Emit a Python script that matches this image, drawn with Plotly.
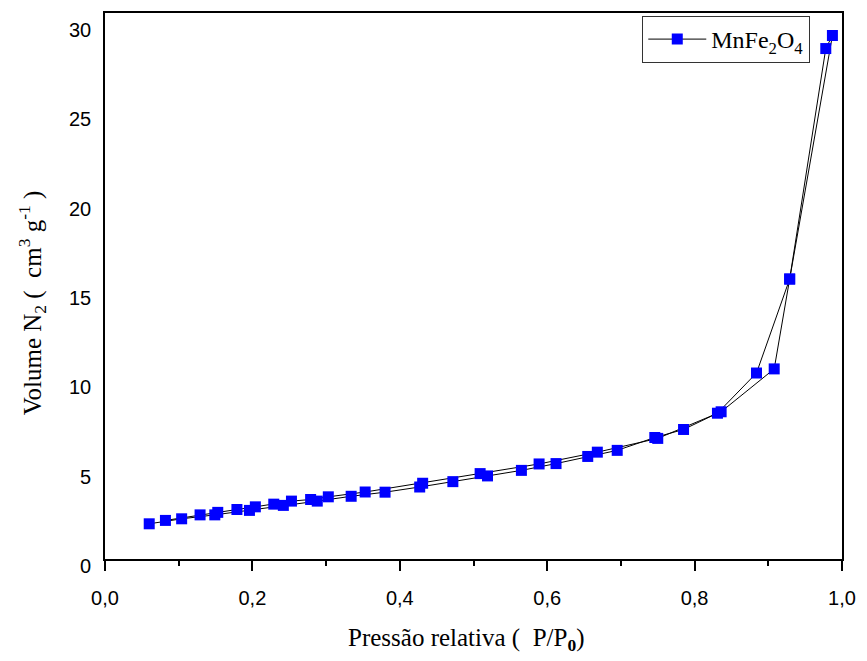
import plotly.graph_objects as go

# N2 isotherm of MnFe2O4: adsorption branch (increasing P/P0)
p_ads = [0.060, 0.104, 0.149, 0.196, 0.242, 0.288, 0.334, 0.380, 0.427, 0.472,
         0.519, 0.565, 0.612, 0.655, 0.695, 0.746, 0.785, 0.831, 0.884, 0.929, 0.987]
v_ads = [2.36, 2.64, 2.86, 3.11, 3.39, 3.63, 3.90, 4.13, 4.42, 4.72,
         5.04, 5.35, 5.73, 6.13, 6.47, 7.19, 7.64, 8.55, 10.80, 16.06, 29.69]

# desorption branch (decreasing P/P0)
p_des = [0.978, 0.929, 0.908, 0.836, 0.750, 0.668, 0.589, 0.509, 0.431, 0.353,
         0.303, 0.279, 0.253, 0.229, 0.204, 0.179, 0.153, 0.129, 0.082]
v_des = [28.96, 16.06, 11.03, 8.63, 7.14, 6.37, 5.71, 5.17, 4.63, 4.14,
         3.87, 3.72, 3.63, 3.46, 3.31, 3.16, 3.00, 2.86, 2.55]

x_ticks = [0.0, 0.2, 0.4, 0.6, 0.8, 1.0]
y_ticks = [0, 5, 10, 15, 20, 25, 30]
y_tick_text = [str(v) for v in y_ticks]
y_range = [0.39, 30.95]

fig = go.Figure()
fig.add_trace(go.Scatter(
    x=p_ads + p_des,
    y=v_ads + v_des,
    mode="lines+markers",
    name="MnFe<sub>2</sub>O<sub>4</sub>",
    line=dict(color="black", width=1),
    marker=dict(symbol="square", size=11, color="#0000FF", line=dict(width=0)),
))

sans = "Liberation Sans, Arial, sans-serif"
serif = "Liberation Serif, Times New Roman, serif"

# y tick labels placed along the y axis (the 0 label falls just under the frame)
span = y_range[1] - y_range[0]
annotations = [
    dict(text=t, xref="paper", yref="y domain", x=-0.016, y=(v - y_range[0]) / span,
         xanchor="right", yanchor="middle", showarrow=False,
         font=dict(family=sans, size=20, color="black"))
    for v, t in zip(y_ticks, y_tick_text)
]
annotations += [
    dict(text="Pressão relativa (  P/P<sub><b>0</b></sub>)",
         xref="paper", yref="paper", x=0.4906, y=-0.147,
         xanchor="center", yanchor="middle", showarrow=False,
         font=dict(family=serif, size=25, color="black")),
    dict(text="Volume N<sub>2</sub> (  cm<sup>3</sup> g<sup>-1</sup> )",
         xref="paper", yref="paper", x=-0.0985, y=0.469,
         xanchor="center", yanchor="middle", showarrow=False, textangle=-90,
         font=dict(family=serif, size=25, color="black")),
]

fig.update_layout(
    width=867, height=661,
    margin=dict(l=105, r=18, t=11, b=102),
    paper_bgcolor="white", plot_bgcolor="white",
    separators=", ",
    showlegend=True,
    legend=dict(
        x=0.729, y=0.9945, xanchor="left", yanchor="top",
        font=dict(family=serif, size=24, color="black"),
        bordercolor="#333333", borderwidth=1, bgcolor="white",
        itemwidth=58, tracegroupgap=0,
    ),
    xaxis=dict(
        range=[0, 1.0], tickvals=x_ticks, tickformat=".1f",
        showline=True, linecolor="black", linewidth=2, mirror=True,
        ticks="outside", ticklen=10, tickwidth=2, tickcolor="black",
        minor=dict(ticks="outside", ticklen=5, tickwidth=2, dtick=0.1, tickcolor="black"),
        showgrid=False, zeroline=False,
        tickfont=dict(family=sans, size=20, color="black"),
        ticklabelstandoff=10,
    ),
    yaxis=dict(
        range=y_range,
        showline=True, linecolor="black", linewidth=2, mirror=True,
        ticks="", showticklabels=False, showgrid=False, zeroline=False,
    ),
    annotations=annotations,
)

fig.write_html("out.html")
